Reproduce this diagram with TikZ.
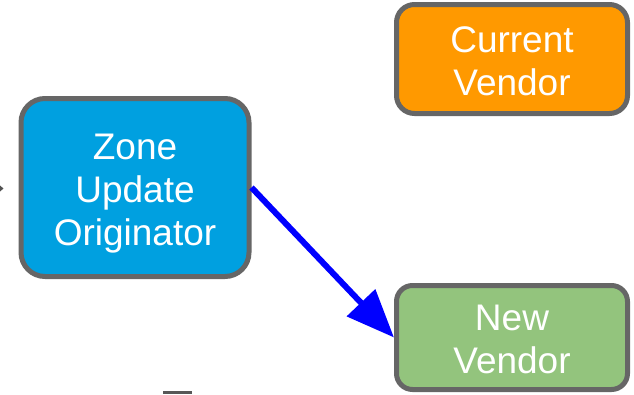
\documentclass[tikz,border=0pt]{standalone}
\usepackage{fontspec}
\setmainfont{Liberation Sans}
\usetikzlibrary{arrows.meta}
\definecolor{edgegray}{HTML}{666666}
\definecolor{zoneblue}{HTML}{00A0E0}
\definecolor{curorange}{HTML}{FF9900}
\definecolor{newgreen}{HTML}{93C47D}
\definecolor{flowblue}{HTML}{0000FF}
\tikzset{
  box/.style={draw=edgegray, line width=5pt, rounded corners=#1, inner sep=0pt},
  boxtext/.style={text=white, align=center, inner sep=0pt,
    font=\fontsize{37}{43}\selectfont},
  flow/.style={draw=flowblue, line width=6pt,
    -{Triangle[length=48pt, width=38pt]}},
}
\begin{document}
\begin{tikzpicture}[x=1pt, y=-1pt]
  \useasboundingbox (0,0) rectangle (634,394);
  % the three boxes
  \node[box=24pt, fill=zoneblue, minimum width=228pt, minimum height=178pt]
    (zone) at (135,187.5) {};
  \node[box=18pt, fill=curorange, minimum width=231pt, minimum height=109pt]
    (cur) at (512,59) {};
  \node[box=16pt, fill=newgreen, minimum width=231pt, minimum height=104pt]
    (newv) at (512,337.5) {};
  % their labels
  \node[boxtext] (zonetext) at ([yshift=-6pt]zone.center) {Zone\\Update\\Originator};
  \node[boxtext] (curtext) at ([yshift=-2.5pt]cur.center) {Current\\Vendor};
  \node[boxtext] (newtext) at ([yshift=-1.5pt]newv.center) {New\\Vendor};
  % update flow
  \draw[flow] (zone.east) -- (newv.west);
  % pieces cut by the frame
  \fill[edgegray!80!black] (0,185.5) -- (3.5,188.5) -- (0,191.5) -- cycle;
  \fill[edgegray!85!black] (163,391) rectangle (192,394);
\end{tikzpicture}
\end{document}
